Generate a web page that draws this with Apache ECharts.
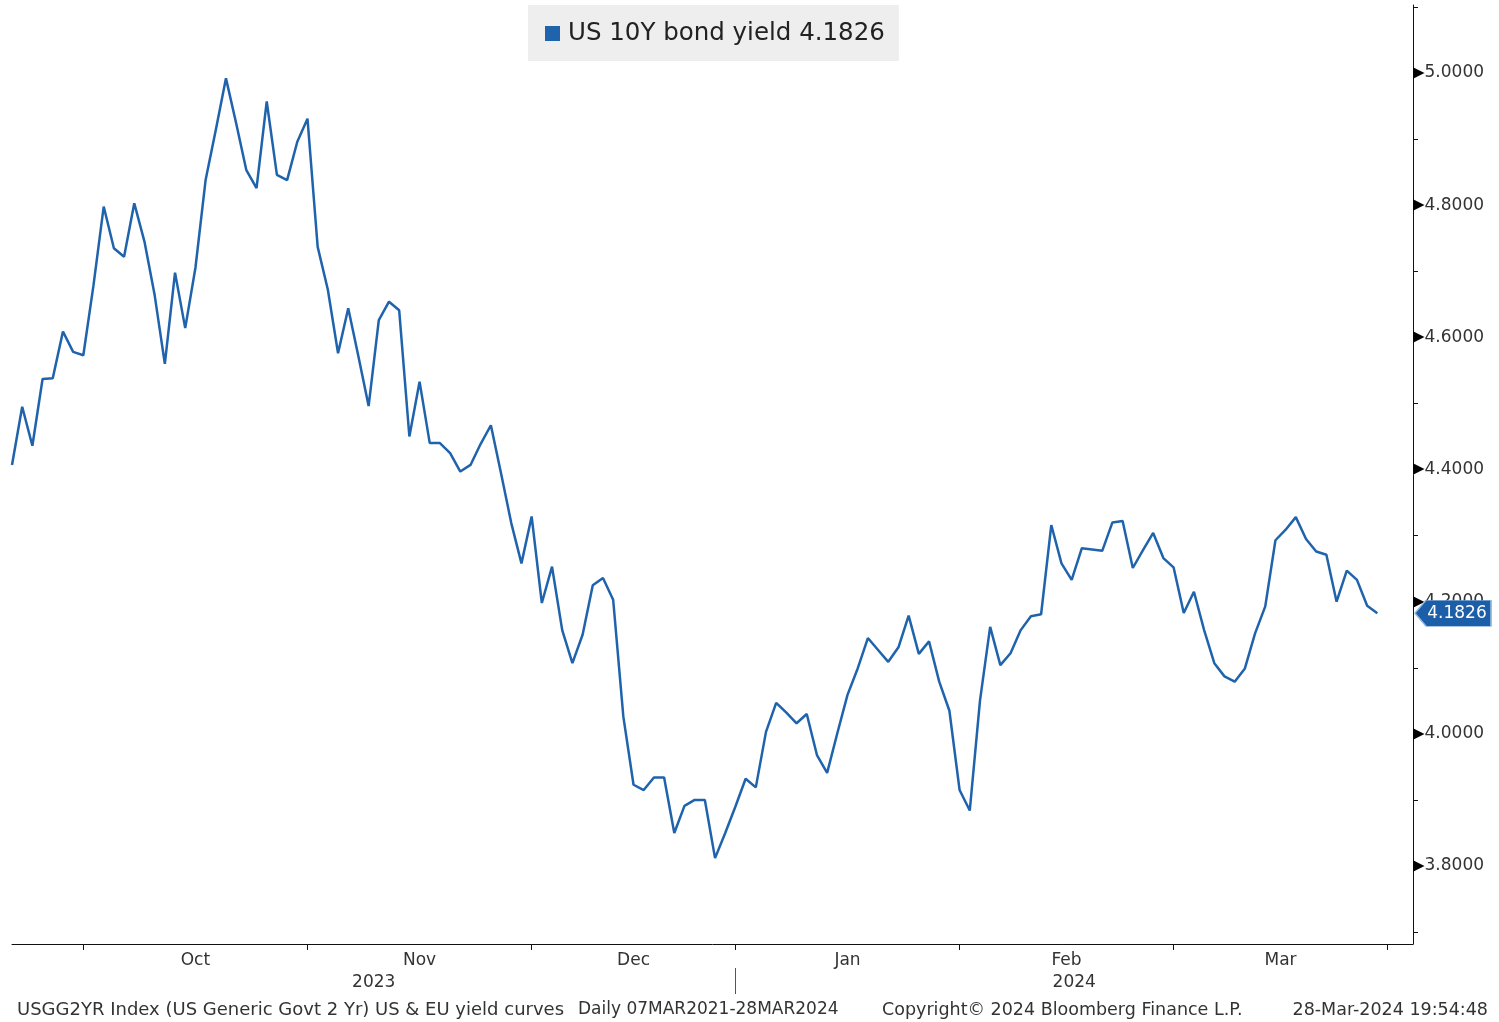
<!DOCTYPE html>
<html>
<head>
<meta charset="utf-8">
<script src="https://cdn.jsdelivr.net/npm/echarts@6/dist/echarts.min.js"></script>
<style>
html,body{margin:0;padding:0;background:#fff;}
#chart{width:1499px;height:1022px;}
</style>
</head>
<body>
<div id="chart"></div>
<script>
// ---- DATA ----
const seriesName = 'US 10Y bond yield';
const startDate = '2023-09-20';
const holidays = ['2023-12-25', '2024-01-01'];
const yields = [
  4.407, 4.495, 4.436, 4.537, 4.538, 4.609, 4.578, 4.573, 4.679, 4.798,
  4.735, 4.722, 4.803, 4.745, 4.664, 4.560, 4.698, 4.614, 4.705, 4.838,
  4.914, 4.992, 4.924, 4.853, 4.826, 4.957, 4.846, 4.838, 4.896, 4.931,
  4.737, 4.672, 4.576, 4.644, 4.571, 4.496, 4.626, 4.654, 4.641, 4.450,
  4.533, 4.440, 4.440, 4.425, 4.397, 4.407, 4.439, 4.467, 4.394, 4.319,
  4.258, 4.329, 4.198, 4.253, 4.157, 4.107, 4.150, 4.225, 4.236, 4.203,
  4.026, 3.923, 3.915, 3.934, 3.934, 3.850, 3.891, 3.900, 3.900, 3.812,
  3.850, 3.890, 3.932, 3.919, 4.003, 4.047, 4.032, 4.016, 4.030, 3.968,
  3.941, 4.001, 4.059, 4.099, 4.145, 4.127, 4.109, 4.131, 4.179, 4.121,
  4.140, 4.079, 4.035, 3.915, 3.884, 4.050, 4.162, 4.104, 4.122, 4.157,
  4.178, 4.181, 4.316, 4.258, 4.233, 4.281, 4.279, 4.277, 4.320, 4.322,
  4.251, 4.278, 4.304, 4.266, 4.252, 4.183, 4.215, 4.157, 4.107, 4.087,
  4.079, 4.099, 4.152, 4.193, 4.293, 4.309, 4.328, 4.295, 4.276, 4.271,
  4.200, 4.247, 4.233, 4.194, 4.1826
];
const monthLabels = ['Oct', 'Nov', 'Dec', 'Jan', 'Feb', 'Mar'];
const yearLabels = ['2023', '2024'];
const yMajorTicks = [3.8, 4.0, 4.2, 4.4, 4.6, 4.8, 5.0];
const yMinorTicks = [3.7, 3.9, 4.1, 4.3, 4.5, 4.7, 4.9, 5.1];
const footerLeft = 'USGG2YR Index (US Generic Govt 2 Yr) US & EU yield curves';
const footerMid = 'Daily 07MAR2021-28MAR2024';
const footerCopy = 'Copyright\u00A9 2024 Bloomberg Finance L.P.';
const footerTime = '28-Mar-2024 19:54:48';

// ---- trading-day calendar (weekdays minus holidays) ----
function tradingCalendar(start, count) {
  const out = [];
  const d = new Date(start + 'T00:00:00Z');
  while (out.length < count) {
    const wd = d.getUTCDay();
    const s = d.toISOString().slice(0, 10);
    if (wd !== 0 && wd !== 6 && holidays.indexOf(s) < 0) out.push(s);
    d.setUTCDate(d.getUTCDate() + 1);
  }
  return out;
}
const calendar = tradingCalendar(startDate, yields.length + 6);
const dates = calendar.slice(0, yields.length);
const xMax = yields.length - 1 + 3.5;
const monthEnds = [];
for (let i = 0; i < calendar.length - 1; i++) {
  if (calendar[i].slice(5, 7) !== calendar[i + 1].slice(5, 7) && i <= xMax) monthEnds.push(i);
}
const monthLabelPos = {};
for (let k = 0; k < monthEnds.length - 1 && k < monthLabels.length; k++) {
  monthLabelPos[String((monthEnds[k] + monthEnds[k + 1]) / 2)] = monthLabels[k];
}
let yearEnd = 0;
for (let i = 0; i < calendar.length - 1; i++) {
  if (calendar[i].slice(0, 4) !== calendar[i + 1].slice(0, 4)) { yearEnd = i; break; }
}
const yearLabelPos = {};
yearLabelPos[String((0 + yearEnd) / 2)] = yearLabels[0];
yearLabelPos[String((yearEnd + xMax) / 2)] = yearLabels[1];

const last = yields[yields.length - 1];
const lineColor = '#1f63ac';
const FONT = 'DejaVu Sans';

const chart = echarts.init(document.getElementById('chart'));
chart.setOption({
  animation: false,
  backgroundColor: '#ffffff',
  textStyle: { fontFamily: FONT },
  grid: { left: 12, right: 86, top: 5, bottom: 78 },
  legend: {
    left: 528, top: 5,
    backgroundColor: '#eeeeee',
    padding: [16, 14, 15, 17],
    icon: 'rect', itemWidth: 15, itemHeight: 15,
    textStyle: { fontSize: 24.5, color: '#222', fontFamily: FONT, padding: [0, 0, 0, 3] },
    formatter: n => n + ' ' + last.toFixed(4),
    data: [seriesName]
  },
  xAxis: [
    {
      type: 'value', min: 0, max: xMax,
      axisLine: { show: true, onZero: false, lineStyle: { color: '#111', width: 1 } },
      axisTick: { show: true, customValues: monthEnds, length: 6, lineStyle: { color: '#111' } },
      splitLine: { show: false },
      axisLabel: {
        customValues: Object.keys(monthLabelPos).map(Number),
        formatter: v => monthLabelPos[String(v)] || '',
        fontSize: 17, color: '#333', margin: 8, fontFamily: FONT
      }
    },
    {
      type: 'value', min: 0, max: xMax, position: 'bottom', offset: 24,
      axisLine: { show: false, onZero: false },
      axisTick: { show: true, customValues: [yearEnd], length: 26, lineStyle: { color: '#555' } },
      splitLine: { show: false },
      axisLabel: {
        customValues: Object.keys(yearLabelPos).map(Number),
        formatter: v => yearLabelPos[String(v)] || '',
        fontSize: 17, color: '#333', margin: 6, fontFamily: FONT
      }
    }
  ],
  yAxis: {
    type: 'value', position: 'right', min: 3.682, max: 5.103,
    axisLine: { show: true, onZero: false, lineStyle: { color: '#111', width: 1 } },
    axisTick: { show: true, customValues: yMinorTicks, length: 5, lineStyle: { color: '#111' } },
    splitLine: { show: false },
    axisLabel: {
      customValues: yMajorTicks,
      margin: 0,
      formatter: v => '{t|\u25B6}{v|' + v.toFixed(4) + '}',
      rich: {
        t: { fontSize: 15, color: '#000', fontFamily: FONT },
        v: { fontSize: 17, color: '#333', fontFamily: FONT, padding: [0, 0, 0, 0] }
      }
    }
  },
  series: [{
    name: seriesName,
    type: 'line',
    data: yields.map((v, i) => [i, v]),
    showSymbol: false,
    clip: false,
    color: lineColor,
    lineStyle: { color: lineColor, width: 2.5 },
    markPoint: {
      silent: true,
      data: [{ coord: [xMax, last] }],
      symbol: 'path://M0,13L11,0L76,0L76,26L11,26Z',
      symbolSize: [76, 26],
      symbolOffset: [40, 0],
      itemStyle: { color: '#1c5ea8', borderColor: '#8fb6e0', borderWidth: 1 },
      label: {
        show: true, position: 'inside', offset: [4, 0],
        formatter: () => last.toFixed(4),
        color: '#fff', fontSize: 17, fontFamily: FONT
      }
    }
  }],
  graphic: [
    { type: 'text', left: 17, top: 1001, style: { text: footerLeft, fontSize: 18, fill: '#333', fontFamily: FONT } },
    { type: 'text', left: 578, top: 1001, style: { text: footerMid, fontSize: 17, fill: '#333', fontFamily: FONT } },
    { type: 'text', left: 882, top: 1001, style: { text: footerCopy, fontSize: 17.5, fill: '#333', fontFamily: FONT } },
    { type: 'text', right: 11, top: 1001, style: { text: footerTime, fontSize: 17.5, fill: '#333', fontFamily: FONT } }
  ]
});
</script>
</body>
</html>
